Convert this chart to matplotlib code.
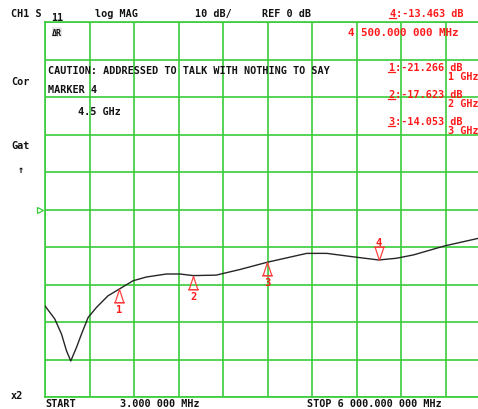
import matplotlib as mpl
import matplotlib.pyplot as plt
import numpy as np
from matplotlib.lines import Line2D
from matplotlib.path import Path

mpl.rcParams.update(
    {
        "font.family": ["DejaVu Sans Mono"],
        "font.weight": "bold",
        "font.size": 7.3,
    }
)

# trace: frequency (GHz) vs S11 magnitude (dB)
freq_ghz = [0.003, 0.135, 0.225, 0.293, 0.35, 0.427, 0.495, 0.584, 0.697, 0.853,
            1.0, 1.19, 1.37, 1.64, 1.82, 2.0, 2.31, 2.63, 3.0, 3.53,
            3.80, 4.15, 4.5, 4.74, 4.97, 5.39, 5.84, 6.0]
s11_db = [-25.7, -29.2, -33.2, -37.7, -40.4, -36.8, -33.2, -28.8, -26.1, -23.0,
          -21.266, -19.0, -18.0, -17.2, -17.2, -17.623, -17.5, -16.0, -14.053, -11.7,
          -11.7, -12.6, -13.463, -13.0, -12.1, -9.7, -7.7, -7.0]

marker_ids = ["1", "2", "3", "4"]
marker_freq = [1.0, 2.0, 3.0, 4.5]
marker_db = [-21.266, -17.623, -14.053, -13.463]
marker_freq_text = ["1 GHz", "2 GHz", "3 GHz", "4 500.000 000 MHz"]

start_ghz, stop_ghz = 0.003, 6.0
ref_db, db_per_div = 0, 10

W, H = 478, 410
GREEN = "#3acc3a"
RED = "#ff1a1a"
BLACK = "#111111"

fig = plt.figure(figsize=(W / 100, H / 100), dpi=100)
fig.patch.set_facecolor("white")
# the graticule runs past the right edge of the screen capture
ax = fig.add_axes([45 / W, 12 / H, 445 / W, 375 / H])
ax.set_xlim(start_ghz, stop_ghz)
ax.set_ylim(ref_db - 5 * db_per_div, ref_db + 5 * db_per_div)
ax.set_xticks(np.linspace(start_ghz, stop_ghz, 11))
ax.set_yticks(np.linspace(ref_db - 5 * db_per_div, ref_db + 5 * db_per_div, 11))
ax.grid(True, color=GREEN, lw=1.2)
ax.tick_params(length=0, labelleft=False, labelbottom=False)
for s in ax.spines.values():
    s.set_color(GREEN)
    s.set_linewidth(1.2)

ax.plot(freq_ghz, s11_db, color="#262626", lw=1.0, zorder=3)

# reference position arrow on the left edge
ax.plot([-0.012], [ref_db], marker=">", ms=4, mfc="none", mec=GREEN, mew=0.9,
        transform=ax.get_yaxis_transform(), clip_on=False)

up = Path([(0, 0), (-0.33, -1), (0.33, -1), (0, 0), (-0.42, -1), (0.42, -1)],
          [Path.MOVETO, Path.LINETO, Path.LINETO, Path.CLOSEPOLY, Path.MOVETO, Path.LINETO])
down = Path([(0, 0), (-0.33, 1), (0.33, 1), (0, 0), (-0.42, 1), (0.42, 1)],
            [Path.MOVETO, Path.LINETO, Path.LINETO, Path.CLOSEPOLY, Path.MOVETO, Path.LINETO])
for mid, f, v in zip(marker_ids, marker_freq, marker_db):
    active = mid == "4"
    ax.plot([f], [v], marker=down if active else up, ms=19, mfc="none",
            mec="#ff4040", mew=0.9, ls="none", zorder=4)
    ax.annotate(mid, (f, v), xytext=(0, 13 if active else -14.5), textcoords="offset points",
                ha="center", va="center", color=RED, fontsize=7.5, zorder=5)


def px(x, y, s, color=BLACK, **kw):
    fig.text(x / W, 1 - y / H, s, color=color, ha="left", va="center", **kw)


def uline(x0, x1, y):
    fig.add_artist(Line2D([x0 / W, x1 / W], [1 - y / H, 1 - y / H], color=RED, lw=0.9))


px(11, 14, "CH1 S")
px(51, 18, "11")
px(95, 14, "log MAG")
px(195, 14, f"{db_per_div} dB/")
px(262, 14, f"REF {ref_db} dB")

px(390, 14, f"{marker_ids[3]}:{marker_db[3]:.3f} dB", RED)
uline(389, 396, 19)
px(348, 33, marker_freq_text[3], RED, fontsize=7.8)
for i, y in zip(range(3), [68, 95, 122]):
    px(389, y, f"{marker_ids[i]}:{marker_db[i]:.3f} dB", RED)
    uline(388, 395, y + 5)
    px(448, y + 9, marker_freq_text[i], RED)

px(52, 33, "ΔR", fontsize=6, bbox=dict(boxstyle="square,pad=0.05", fc="#e8e8e8", ec="none"))
px(48, 71, "CAUTION: ADDRESSED TO TALK WITH NOTHING TO SAY")
px(48, 90, "MARKER 4")
px(78, 112, "4.5 GHz")

px(11, 82, "Cor")
px(11, 146, "Gat")
px(18, 170, "↑")
px(11, 396, "x2")

px(45, 404, "START")
px(120, 404, "3.000 000 MHz")
px(307, 404, "STOP 6 000.000 000 MHz")

fig.savefig("out.png", dpi=100)
plt.close(fig)
